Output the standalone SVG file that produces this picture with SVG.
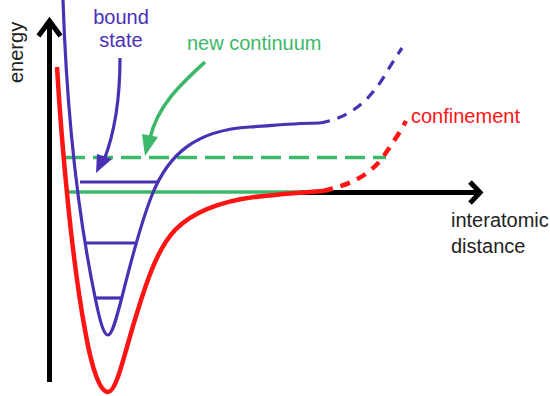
<svg xmlns="http://www.w3.org/2000/svg" width="550" height="396" viewBox="0 0 550 396">
<style>
.axis{stroke:#000;stroke-width:5;fill:none}
.pur{stroke:#4a30b5;stroke-width:3.2;fill:none}
.grn{stroke:#3cb86a;stroke-width:3.5;fill:none}
.red{stroke:#ff1414;stroke-width:4.5;fill:none}
.lbl{font-family:"Liberation Sans",Arial,sans-serif;font-size:20px}
</style>
<rect width="550" height="396" fill="#fff"/>
<g id="axes">
  <line class="axis" x1="49.5" y1="23" x2="49.5" y2="382"/>
  <polyline class="axis" points="38.5,36 49.5,21 60.5,36"/>
  <line class="axis" x1="300" y1="192.5" x2="477" y2="192.5"/>
  <polyline class="axis" points="470,182 480,192.5 470,203"/>
  <text class="lbl" fill="#222" transform="translate(23,83) rotate(-90)">energy</text>
  <text class="lbl" fill="#222" x="451" y="227">interatomic</text>
  <text class="lbl" fill="#222" x="451" y="253">distance</text>
</g>
<g id="new-continuum-levels">
  <line class="grn" x1="69" y1="192" x2="312" y2="192" stroke-width="4"/>
  <line class="grn" x1="65" y1="157.5" x2="386" y2="157.5" stroke-dasharray="20 8"/>
</g>
<g id="bound-potential">
  <path class="pur" d="M63,0 C66,90 75,200 95,297 C100,322 104,335 108,335 C112,335 116,320 122,297 C130,265 140,225 152,195 C168,155 195,130 250,127 C280,125 300,123 320,123"/>
  <path class="pur" d="M320,123 C350,118 370,100 385,75 C392,63 398,54 402,48" stroke-width="3.5" stroke-dasharray="10 8"/>
  <line class="pur" x1="80" y1="182" x2="157" y2="182"/>
  <line class="pur" x1="86" y1="243" x2="135" y2="243"/>
  <line class="pur" x1="95" y1="298" x2="122" y2="298"/>
</g>
<g id="confined-potential">
  <path class="red" d="M57,67 C62,150 72,260 85,330 C92,370 100,392 108,392 C117,392 125,350 137,313 C147,280 158,248 175,230 C195,210 230,198 275,195 C295,193 310,192 323,191"/>
  <path class="red" d="M323,191 C350,185 370,175 383,157 C393,143 400,132 406,121" stroke-width="5" stroke-dasharray="10 8"/>
</g>
<g id="connectors">
  <path class="pur" d="M120,58 C120,100 115,132 104,160"/>
  <polygon points="97,154 112,159 96,173" fill="#4a30b5"/>
  <path class="grn" d="M205,62 C180,85 158,105 150,138" stroke-width="3"/>
  <polygon points="142,134 158,137 145,156" fill="#3cb86a"/>
</g>
<g id="label-bound-state">
  <text class="lbl" fill="#4a30b5" x="121" y="24" text-anchor="middle">bound</text>
  <text class="lbl" fill="#4a30b5" x="121" y="47" text-anchor="middle">state</text>
</g>
<g id="label-new-continuum">
  <text class="lbl" fill="#3cb86a" x="187" y="50">new continuum</text>
</g>
<g id="label-confinement">
  <text class="lbl" fill="#ff1414" x="411" y="123">confinement</text>
</g>
</svg>
